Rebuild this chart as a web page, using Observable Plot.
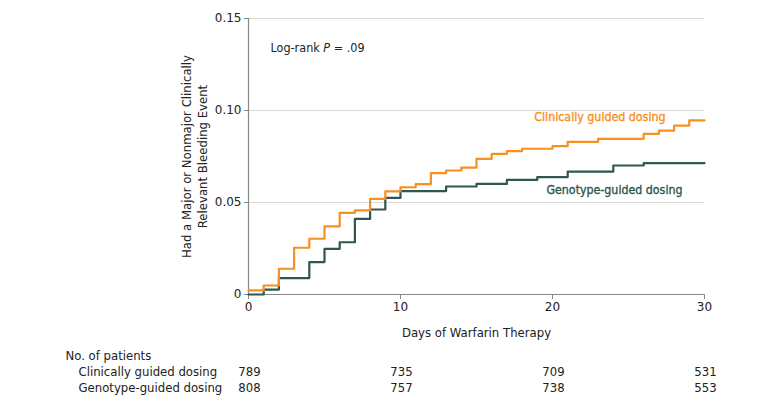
<!DOCTYPE html>
<html><head><meta charset="utf-8">
<script src="https://cdn.jsdelivr.net/npm/d3@7"></script>
<script src="https://cdn.jsdelivr.net/npm/@observablehq/plot@0.6"></script>
<style>
body{margin:0;background:#fff;}
#chart svg{display:block;}
</style>
</head><body><div id="chart"></div>
<script>
// Days since start of warfarin therapy (step times)
const days = [0,1,2,3,4,5,6,7,8,9,10,11,12,13,14,15,16,17,18,19,20,21,22,23,24,25,26,27,28,29,30];
// Cumulative incidence, clinically guided dosing
const clinicalRisk = [0.0022,0.0049,0.0140,0.0254,0.0303,0.0370,0.0444,0.0457,0.0520,0.0560,0.0583,0.0600,0.0660,0.0674,0.0690,0.0737,0.0764,0.0779,0.0792,0.0792,0.0806,0.0830,0.0830,0.0846,0.0846,0.0846,0.0873,0.0891,0.0918,0.0946,0.0946];
// Cumulative incidence, genotype-guided dosing
const genotypeRisk = [0.0000,0.0027,0.0089,0.0089,0.0176,0.0248,0.0284,0.0411,0.0462,0.0525,0.0562,0.0562,0.0562,0.0587,0.0587,0.0601,0.0601,0.0623,0.0623,0.0638,0.0638,0.0668,0.0668,0.0668,0.0701,0.0701,0.0714,0.0714,0.0714,0.0714,0.0714];

const seriesNames = ["Clinically guided dosing", "Genotype-guided dosing"];
const seriesColors = ["#F7901E", "#2E5652"];

const xTicks = [0, 10, 20, 30];
const yTicks = [0, 0.05, 0.10, 0.15];

const atRiskDays = [0, 10, 20, 30];
const clinicalAtRisk = [789, 735, 709, 531];
const genotypeAtRisk = [808, 757, 738, 553];

const yLabel = "Had a Major or Nonmajor Clinically\nRelevant Bleeding Event";
const xLabel = "Days of Warfarin Therapy";
const tableTitle = "No. of patients";

const clinical = days.map((d, i) => ({day: d, risk: clinicalRisk[i]}));
const genotype = days.map((d, i) => ({day: d, risk: genotypeRisk[i]}));

const condensed = "'DejaVu Sans Condensed','Liberation Sans Narrow',sans-serif";
const tickFont = "'DejaVu Sans',sans-serif";
const ink = "#222";

const chart = Plot.plot({
  width: 780,
  height: 405,
  marginLeft: 248,
  marginRight: 76,
  marginTop: 18,
  marginBottom: 111,
  style: {background: "#fff", color: ink},
  x: {domain: [0, 30], ticks: xTicks},
  y: {domain: [0, 0.15], ticks: yTicks},
  marks: [
    Plot.ruleY(yTicks.filter(d => d > 0), {stroke: "#d9d9d9", strokeWidth: 1.2}),
    Plot.ruleX([0], {stroke: "#888", strokeWidth: 1.2}),
    Plot.ruleY([0], {stroke: "#888", strokeWidth: 1.2}),
    Plot.axisY({ticks: yTicks, tickSize: 4, tickPadding: 3, stroke: "#888", label: null,
      tickFormat: d => d === 0 ? "0" : d.toFixed(2), fontSize: 12, fontFamily: tickFont, fill: ink}),
    Plot.axisX({ticks: xTicks, tickSize: 5, tickPadding: 3, stroke: "#888", label: null,
      tickFormat: d => String(d), fontSize: 12, fontFamily: tickFont, fill: ink}),
    Plot.line(genotype, {x: "day", y: "risk", curve: "step-after", stroke: seriesColors[1], strokeWidth: 2.2}),
    Plot.line(clinical, {x: "day", y: "risk", curve: "step-after", stroke: seriesColors[0], strokeWidth: 2.2}),
    // series labels, anchored at the end of each curve
    Plot.text([clinical[clinical.length - 1]], {x: "day", y: "risk", text: () => seriesNames[0],
      textAnchor: "end", lineAnchor: "middle", dx: -39, dy: -3, fill: seriesColors[0], stroke: seriesColors[0], strokeWidth: 0.35,
      fontSize: 12.3, fontFamily: condensed}),
    Plot.text([genotype[genotype.length - 1]], {x: "day", y: "risk", text: () => seriesNames[1],
      textAnchor: "end", lineAnchor: "middle", dx: -22, dy: 27, fill: seriesColors[1], stroke: seriesColors[1], strokeWidth: 0.35,
      fontSize: 12.3, fontFamily: condensed}),
    // log-rank annotation
    Plot.text(["Log-rank "], {frameAnchor: "top-left", lineAnchor: "middle", dx: 22, dy: 29, textAnchor: "start",
      fontSize: 12.5, fontFamily: condensed, fill: ink}),
    // y label
    Plot.text([yLabel], {frameAnchor: "left", textAnchor: "middle", lineAnchor: "middle", rotate: -90, dx: -55, lineHeight: 1.23,
      fontSize: 13, fontFamily: condensed, fill: ink}),
    // x label
    Plot.text([xLabel], {frameAnchor: "bottom", lineAnchor: "middle", dy: 38, fontSize: 13, fontFamily: condensed, fill: ink}),
    // number at risk table
    Plot.text([tableTitle], {frameAnchor: "bottom-left", lineAnchor: "middle", dx: -183, dy: 61, textAnchor: "start",
      fontSize: 13, fontFamily: condensed, fill: ink}),
    Plot.text([seriesNames[0]], {frameAnchor: "bottom-left", lineAnchor: "middle", dx: -170, dy: 77, textAnchor: "start",
      fontSize: 13, fontFamily: condensed, fill: ink}),
    Plot.text([seriesNames[1]], {frameAnchor: "bottom-left", lineAnchor: "middle", dx: -170, dy: 93, textAnchor: "start",
      fontSize: 13, fontFamily: condensed, fill: ink}),
    Plot.text(atRiskDays, {x: d => d, frameAnchor: "bottom", lineAnchor: "middle", dx: 1, dy: 77,
      text: (d, i) => String(clinicalAtRisk[i]), fontSize: 13, fontFamily: condensed, fill: ink}),
    Plot.text(atRiskDays, {x: d => d, frameAnchor: "bottom", lineAnchor: "middle", dx: 1, dy: 93,
      text: (d, i) => String(genotypeAtRisk[i]), fontSize: 13, fontFamily: condensed, fill: ink})
  ]
});

document.getElementById("chart").appendChild(chart);
// Italic P in the log-rank annotation
chart.querySelectorAll("text").forEach(t => {
  if (t.textContent === "Log-rank ") {
    const tsP = document.createElementNS("http://www.w3.org/2000/svg", "tspan");
    tsP.setAttribute("font-style", "italic");
    tsP.textContent = "P";
    const tsV = document.createElementNS("http://www.w3.org/2000/svg", "tspan");
    tsV.textContent = " = .09";
    t.appendChild(tsP);
    t.appendChild(tsV);
  }
});
</script>
</body></html>
